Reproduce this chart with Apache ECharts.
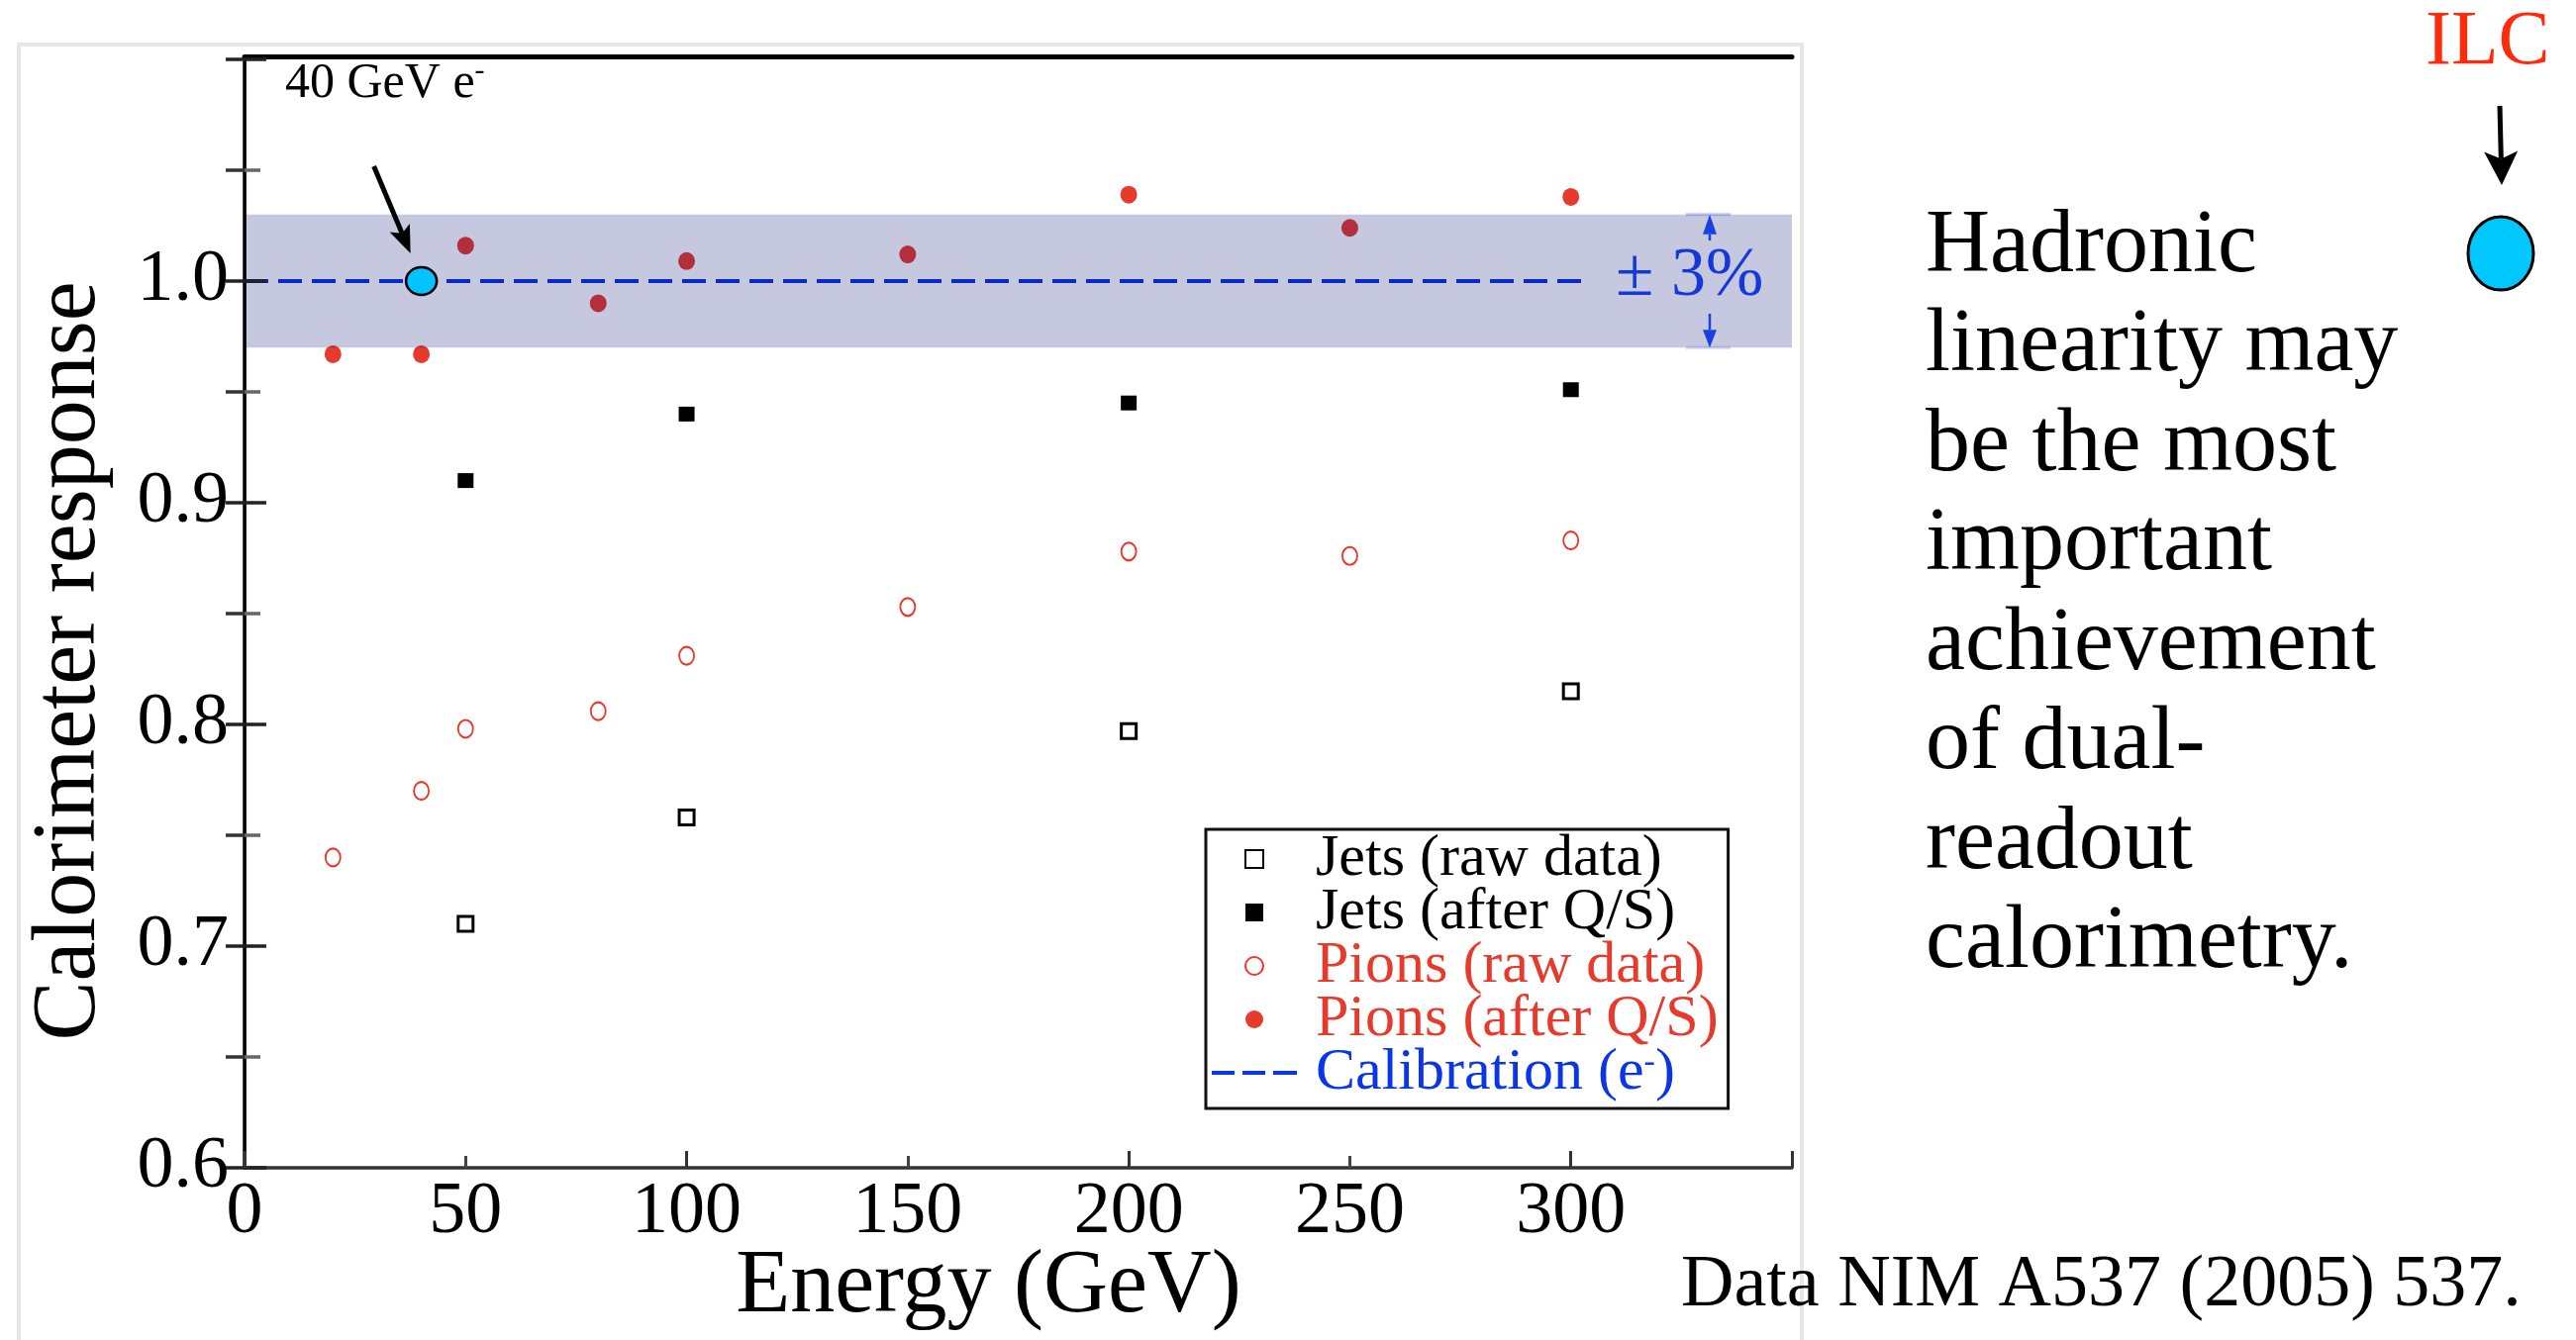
<!DOCTYPE html>
<html>
<head>
<meta charset="utf-8">
<script src="https://cdn.jsdelivr.net/npm/echarts@6/dist/echarts.min.js"></script>
<style>
  html, body { margin: 0; padding: 0; background: #fff; }
  #chart { width: 2602px; height: 1354px; }
</style>
</head>
<body>
<div id="chart"></div>
<script>
// Beam energies (GeV) and calorimeter response of each sample
const jetEnergies = [50, 100, 200, 300];
const jetsRaw = [0.710, 0.758, 0.797, 0.815];
const jetsQS = [0.910, 0.940, 0.945, 0.951];

const pionEnergies = [20, 40, 50, 80, 100, 150, 200, 250, 300];
const pionsRaw = [0.740, 0.770, 0.798, 0.806, 0.831, 0.853, 0.878, 0.876, 0.883];
const pionsQS = [0.967, 0.967, 1.016, 0.990, 1.009, 1.012, 1.039, 1.024, 1.038];

// Electron calibration line and the 40 GeV electron point
const calibEnergies = [0, 303];
const calibResponse = [1.0, 1.0];
const electronEnergy = [40];
const electronResponse = [1.0];

// +-3% band around the calibration
const bandLow = 0.97;
const bandHigh = 1.03;

const xTickLabels = ['0', '50', '100', '150', '200', '250', '300'];
const yTickLabels = ['0.6', '0.7', '0.8', '0.9', '1.0'];

const seriesNames = ['Jets (raw data)', 'Jets (after Q/S)', 'Pions (raw data)', 'Pions (after Q/S)', 'Calibration (e-)'];
const legendColors = ['#000000', '#000000', '#e63a2c', '#e63a2c', '#0a36e6'];

const SERIF = '"Liberation Serif", "Times New Roman", serif';
const RED = '#e63a2c';
const BLUE = '#0a36e6';

// legend glyphs
const SQUARE_ICON = 'path://M0,0L10,0L10,10L0,10Z';
const DASH_ICON = 'path://M0,0h23v4h-23zM31,0h23v4h-23zM62,0h24v4h-24z';
const legendIcons = [SQUARE_ICON, SQUARE_ICON, 'circle', 'circle', DASH_ICON];

const pairs = (xs, ys) => xs.map((x, i) => [x, ys[i]]);

const chart = echarts.init(document.getElementById('chart'), null, { renderer: 'canvas', width: 2602, height: 1354 });

const option = {
  animation: false,
  backgroundColor: '#ffffff',
  grid: { left: 247, top: 60, right: 792, bottom: 174, containLabel: false, outerBoundsMode: 'none' },
  xAxis: [
    {
      type: 'value', min: 0, max: 350, interval: 50, position: 'bottom', z: 5,
      axisLine: { lineStyle: { color: '#333', width: 3.5 } },
      axisTick: { inside: true, length: 12, lineStyle: { color: '#444', width: 3 } },
      axisLabel: { margin: 9, fontFamily: SERIF, fontSize: 74, color: '#000',
        formatter: (v, i) => (xTickLabels[i] !== undefined ? xTickLabels[i] : '') },
      splitLine: { show: false },
      name: 'Energy (GeV)', nameLocation: 'middle', nameGap: 76, nameMoveOverlap: false,
      nameTextStyle: { fontFamily: SERIF, fontSize: 90, color: '#000', padding: [0, 60, 0, 0] }
    },
    {
      type: 'value', min: 0, max: 350, interval: 100, position: 'bottom', z: 5,
      axisLine: { show: false },
      axisTick: { inside: true, length: 17, lineStyle: { color: '#333', width: 3 } },
      axisLabel: { show: false }, splitLine: { show: false }
    },
    {
      type: 'value', min: 0, max: 350, position: 'top', offset: 3, z: 5,
      axisLine: { lineStyle: { color: '#000', width: 5 } },
      axisTick: { show: false }, axisLabel: { show: false }, splitLine: { show: false }
    }
  ],
  yAxis: [
    {
      type: 'value', min: 0.6, max: 1.1, interval: 0.1, position: 'left', z: 5,
      axisLine: { lineStyle: { color: '#555', width: 2.5 } },
      axisTick: { inside: true, length: 22, lineStyle: { color: '#222', width: 3.5 } },
      minorTick: { show: true, splitNumber: 2, length: 16, lineStyle: { color: '#666', width: 3.5 } },
      axisLabel: { margin: 16, fontFamily: SERIF, fontSize: 74, color: '#000',
        formatter: (v, i) => (yTickLabels[i] !== undefined ? yTickLabels[i] : '') },
      splitLine: { show: false }, minorSplitLine: { show: false },
      name: 'Calorimeter response', nameLocation: 'middle', nameGap: 131, nameMoveOverlap: false,
      nameTextStyle: { fontFamily: SERIF, fontSize: 90, color: '#000', padding: [0, 96, 0, 0] }
    },
    {
      type: 'value', min: 0.6, max: 1.1, interval: 0.1, position: 'right', z: 5,
      axisLine: { lineStyle: { color: '#000', width: 3.5 } },
      axisTick: { inside: true, length: 19, lineStyle: { color: '#222', width: 3.5 } },
      minorTick: { show: true, splitNumber: 2, length: 19, lineStyle: { color: '#333', width: 3.5 } },
      axisLabel: { show: false }, splitLine: { show: false }, minorSplitLine: { show: false }
    }
  ],
  legend: {
    orient: 'vertical', left: 1218, top: 838,
    padding: [0, 10, 6, 6], itemGap: -6, itemWidth: 86, itemHeight: 18,
    symbolKeepAspect: true,
    borderColor: '#111', borderWidth: 3, backgroundColor: '#fff', selectedMode: false,
    textStyle: {
      fontFamily: SERIF, fontSize: 60, lineHeight: 54, padding: [0, 0, 0, 14],
      rich: { sup: { fontFamily: SERIF, fontSize: 34, lineHeight: 36, verticalAlign: 'top' } }
    },
    formatter: name => (name === seriesNames[4] ? 'Calibration (e{sup|-})' : name),
    data: seriesNames.map((n, i) => ({ name: n, icon: legendIcons[i], textStyle: { color: legendColors[i] } }))
  },
  series: [
    {
      name: seriesNames[0], type: 'scatter', z: 2, data: pairs(jetEnergies, jetsRaw),
      symbol: 'rect', symbolSize: [15, 15],
      itemStyle: { color: '#ffffff', borderColor: '#000', borderWidth: 3, opacity: 1 }
    },
    {
      name: seriesNames[1], type: 'scatter', z: 2, data: pairs(jetEnergies, jetsQS),
      symbol: 'rect', symbolSize: [16, 15],
      itemStyle: { color: '#000', opacity: 1 }
    },
    {
      name: seriesNames[2], type: 'scatter', z: 2, data: pairs(pionEnergies, pionsRaw),
      symbol: 'circle', symbolSize: [15, 18],
      itemStyle: { color: '#ffffff', borderColor: RED, borderWidth: 2, opacity: 1 }
    },
    {
      name: seriesNames[3], type: 'scatter', z: 2, data: pairs(pionEnergies, pionsQS),
      symbol: 'circle', symbolSize: [17, 18],
      itemStyle: { color: RED, opacity: 1 }
    },
    {
      name: seriesNames[4], type: 'line', z: 2, data: pairs(calibEnergies, calibResponse),
      symbol: 'none', showSymbol: false,
      itemStyle: { color: BLUE, borderWidth: 0 },
      lineStyle: { color: BLUE, width: 4, type: [24, 10] },
      markArea: {
        silent: true, z: 3,
        itemStyle: { color: 'rgba(0, 10, 110, 0.225)' },
        data: [[{ yAxis: bandLow }, { yAxis: bandHigh }]]
      }
    },
    {
      name: '40 GeV e-', type: 'scatter', z: 4, data: pairs(electronEnergy, electronResponse),
      symbol: 'circle', symbolSize: [31, 28],
      itemStyle: { color: '#00c3ff', borderColor: '#000', borderWidth: 2.5, opacity: 1 }
    }
  ]
};

chart.setOption(option);

// Arrow made of a shaft and a (optionally notched) head
function arrow(tail, tip, o) {
  const dx = tip[0] - tail[0], dy = tip[1] - tail[1];
  const len = Math.hypot(dx, dy);
  const ux = dx / len, uy = dy / len, nx = -uy, ny = ux;
  const base = [tip[0] - ux * o.head, tip[1] - uy * o.head];
  const k = o.notch === undefined ? 0.78 : o.notch;
  const notch = [tip[0] - ux * o.head * k, tip[1] - uy * o.head * k];
  const left = [base[0] + nx * o.half, base[1] + ny * o.half];
  const right = [base[0] - nx * o.half, base[1] - ny * o.half];
  return [
    { type: 'line', z: 20, silent: true,
      shape: { x1: tail[0], y1: tail[1], x2: notch[0], y2: notch[1] },
      style: { stroke: o.color, lineWidth: o.width } },
    { type: 'polygon', z: 20, silent: true,
      shape: { points: [tip, left, notch, right] },
      style: { fill: o.color } }
  ];
}

const toPx = (x, y) => chart.convertToPixel({ xAxisIndex: 0, yAxisIndex: 0 }, [x, y]);
const ePt = toPx(electronEnergy[0], electronResponse[0]);
const yTop = toPx(0, bandHigh)[1];
const yBot = toPx(0, bandLow)[1];
const yCal = toPx(0, 1.0)[1];
const bandArrowX = 1727;

const eTip = [ePt[0] - 11, ePt[1] - 28];
const eTail = [eTip[0] - 37, eTip[1] - 88];

const graphics = [
  // light frame around the figure panel
  { type: 'rect', z: 0, silent: true,
    shape: { x: 19, y: 45, width: 1801, height: 1400 },
    style: { fill: null, stroke: '#e6e6e6', lineWidth: 4 } },
  // electron label
  { type: 'text', z: 20, silent: true, x: 288, y: 85,
    style: { text: '{a|40 GeV e}{s|-}', verticalAlign: 'middle', align: 'left',
      rich: {
        a: { fontFamily: SERIF, fontSize: 50, lineHeight: 56, fill: '#000' },
        s: { fontFamily: SERIF, fontSize: 30, lineHeight: 42, verticalAlign: 'top', fill: '#000' }
      } } },
  ...arrow(eTail, eTip, { head: 28, half: 11, width: 5, color: '#000' }),
  // +-3% marker
  { type: 'text', z: 20, silent: true, x: 1632, y: yCal - 4,
    style: { text: '\u00b1 3%', fontFamily: SERIF, fontSize: 70, fill: '#1538d8',
      verticalAlign: 'middle', align: 'left' } },
  ...arrow([bandArrowX, yCal - 41], [bandArrowX, yTop], { head: 20, half: 7, width: 2.5, color: '#1a40e0', notch: 1 }),
  ...arrow([bandArrowX, yCal + 33], [bandArrowX, yBot], { head: 18, half: 7, width: 2.5, color: '#1a40e0', notch: 1 }),
  { type: 'line', z: 20, silent: true, shape: { x1: 1703, y1: yTop, x2: 1748, y2: yTop },
    style: { stroke: 'rgba(80, 100, 230, 0.35)', lineWidth: 3 } },
  { type: 'line', z: 20, silent: true, shape: { x1: 1703, y1: yBot, x2: 1748, y2: yBot },
    style: { stroke: 'rgba(80, 100, 230, 0.25)', lineWidth: 3 } },
  // side text
  { type: 'text', z: 20, silent: true, x: 1945, y: 200,
    style: { text: 'Hadronic\nlinearity may\nbe the most\nimportant\nachievement\nof dual-\nreadout\ncalorimetry.',
      fontFamily: SERIF, fontSize: 90, lineHeight: 100.5, fill: '#000',
      verticalAlign: 'top', align: 'left' } },
  { type: 'text', z: 20, silent: true, x: 2450, y: 44,
    style: { text: 'ILC', fontFamily: SERIF, fontSize: 78, fill: '#ff2a0a',
      verticalAlign: 'middle', align: 'left' } },
  ...arrow([2525, 107], [2527, 187], { head: 34, half: 17, width: 5, color: '#000' }),
  { type: 'ellipse', z: 20, silent: true,
    shape: { cx: 2526, cy: 256, rx: 33, ry: 37 },
    style: { fill: '#00c8ff', stroke: '#000', lineWidth: 3 } },
  { type: 'text', z: 20, silent: true, x: 1698, y: 1300,
    style: { text: 'Data NIM A537 (2005) 537.', fontFamily: SERIF, fontSize: 74, fill: '#000',
      verticalAlign: 'middle', align: 'left' } }
];

chart.setOption({ graphic: graphics });
</script>
</body>
</html>
